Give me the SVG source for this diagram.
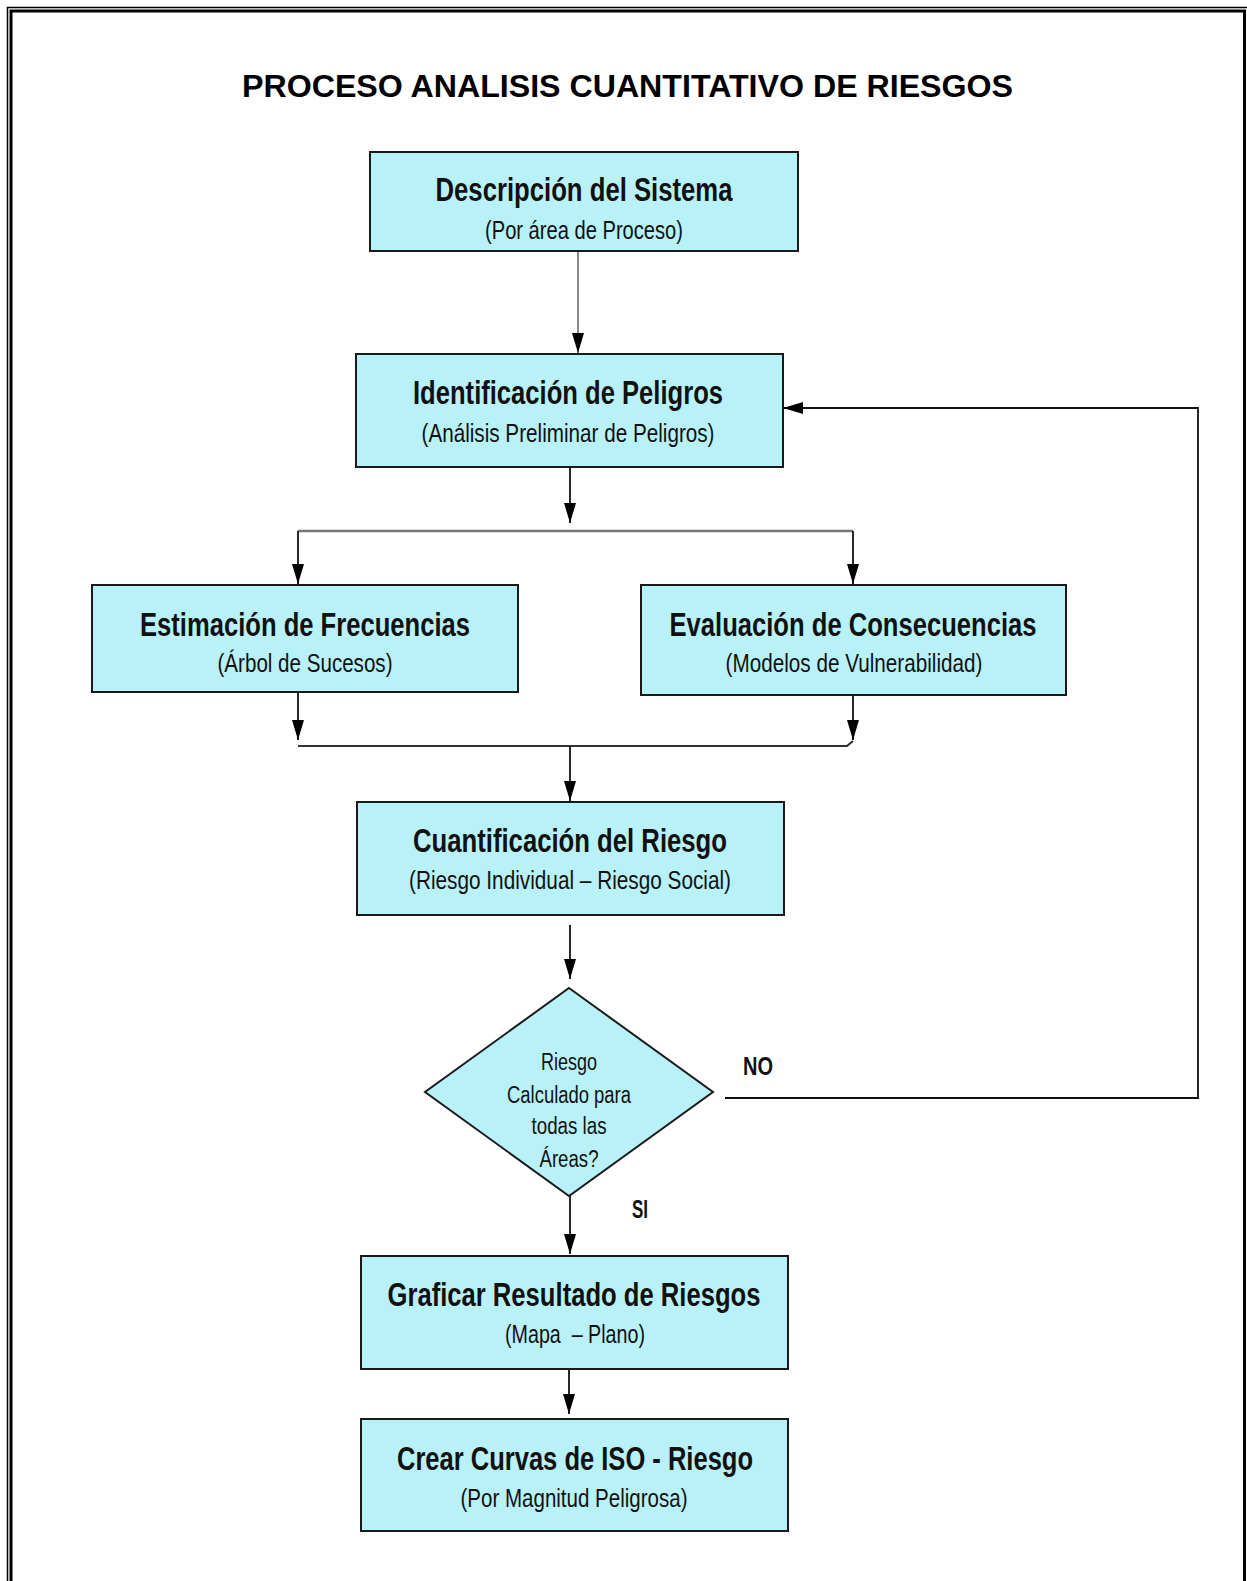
<svg xmlns="http://www.w3.org/2000/svg" width="1247" height="1581" viewBox="0 0 1247 1581">
<style>
.box{fill:#b8f1f8;stroke:#1a1a1a;stroke-width:2}
.t{font-family:"Liberation Sans Narrow","Liberation Sans",Arial,sans-serif;font-weight:bold;font-size:33px;fill:#111;text-anchor:middle}
.s{font-family:"Liberation Sans Narrow","Liberation Sans",Arial,sans-serif;font-size:26px;fill:#111;text-anchor:middle}
.d{font-family:"Liberation Sans Narrow","Liberation Sans",Arial,sans-serif;font-size:23px;fill:#111;text-anchor:middle}
.lbl{font-family:"Liberation Sans Narrow","Liberation Sans",Arial,sans-serif;font-weight:bold;font-size:25px;fill:#111;text-anchor:middle}
.c{fill:none;stroke:#111;stroke-width:1.8}
.g{fill:none;stroke:#888;stroke-width:2}
</style>
<defs>
<marker id="ah" markerUnits="userSpaceOnUse" markerWidth="20" markerHeight="12" refX="20" refY="6" orient="auto">
<path d="M0,0 L20,6 L0,12 z" fill="#000"/>
</marker>
</defs>
<rect width="1247" height="1581" fill="#fff"/>
<g id="border">
<path d="M7.5 1581 V7.5 H1247" fill="none" stroke="#000" stroke-width="1.5"/>
<path d="M11 1581 V11 H1244.5 V1581" fill="none" stroke="#000" stroke-width="3"/>
</g>
<text id="title" x="627.5" y="97" font-family="'Liberation Sans',Arial,sans-serif" font-weight="bold" font-size="32" text-anchor="middle" textLength="771" lengthAdjust="spacingAndGlyphs">PROCESO ANALISIS CUANTITATIVO DE RIESGOS</text>

<g id="connectors">
<line class="g" x1="578" y1="251" x2="578" y2="353" marker-end="url(#ah)"/>
<line class="c" x1="570" y1="467" x2="570" y2="523" marker-end="url(#ah)"/>
<line x1="298" y1="531" x2="853" y2="531" stroke="#777" stroke-width="2.5"/>
<line class="c" x1="298" y1="531" x2="298" y2="584" marker-end="url(#ah)"/>
<line class="c" x1="853" y1="531" x2="853" y2="584" marker-end="url(#ah)"/>
<line class="c" x1="298" y1="692" x2="298" y2="740" marker-end="url(#ah)"/>
<line class="c" x1="853" y1="695" x2="853" y2="740" marker-end="url(#ah)"/>
<path d="M298 746 H847 L853 741" fill="none" stroke="#333" stroke-width="2.2"/>
<line class="c" x1="570" y1="746" x2="570" y2="801" marker-end="url(#ah)"/>
<line class="c" x1="570" y1="925" x2="570" y2="979" marker-end="url(#ah)"/>
<path class="c" d="M725 1098 H1198 V408 H783" stroke="#222" stroke-width="2" marker-end="url(#ah)"/>
<line class="c" x1="570" y1="1196" x2="570" y2="1254" marker-end="url(#ah)"/>
<line class="c" x1="569" y1="1358" x2="569" y2="1414" marker-end="url(#ah)"/>
</g>

<g id="n1">
<rect class="box" x="370" y="152" width="428" height="99"/>
<text class="t" x="584" y="201" textLength="297" lengthAdjust="spacingAndGlyphs">Descripción del Sistema</text>
<text class="s" x="584" y="239" textLength="198" lengthAdjust="spacingAndGlyphs">(Por área de Proceso)</text>
</g>
<g id="n2">
<rect class="box" x="356" y="354" width="427" height="113"/>
<text class="t" x="568" y="404" textLength="310" lengthAdjust="spacingAndGlyphs">Identificación de Peligros</text>
<text class="s" x="568" y="442" textLength="293" lengthAdjust="spacingAndGlyphs">(Análisis Preliminar de Peligros)</text>
</g>
<g id="n3">
<rect class="box" x="92" y="585" width="426" height="107"/>
<text class="t" x="305" y="636" textLength="330" lengthAdjust="spacingAndGlyphs">Estimación de Frecuencias</text>
<text class="s" x="305" y="672" textLength="175" lengthAdjust="spacingAndGlyphs">(Árbol de Sucesos)</text>
</g>
<g id="n4">
<rect class="box" x="641" y="585" width="425" height="110"/>
<text class="t" x="853" y="636" textLength="367" lengthAdjust="spacingAndGlyphs">Evaluación de Consecuencias</text>
<text class="s" x="854" y="672" textLength="257" lengthAdjust="spacingAndGlyphs">(Modelos de Vulnerabilidad)</text>
</g>
<g id="n5">
<rect class="box" x="357" y="802" width="427" height="113"/>
<text class="t" x="570" y="852" textLength="314" lengthAdjust="spacingAndGlyphs">Cuantificación del Riesgo</text>
<text class="s" x="570" y="889" textLength="322" lengthAdjust="spacingAndGlyphs">(Riesgo Individual – Riesgo Social)</text>
</g>
<g id="n6">
<polygon class="box" points="569,988 713,1092 569,1196 425,1092"/>
<text class="d" x="569" y="1070" textLength="56" lengthAdjust="spacingAndGlyphs">Riesgo</text>
<text class="d" x="569" y="1103" textLength="124" lengthAdjust="spacingAndGlyphs">Calculado para</text>
<text class="d" x="569" y="1134" textLength="75" lengthAdjust="spacingAndGlyphs">todas las</text>
<text class="d" x="569" y="1167" textLength="59" lengthAdjust="spacingAndGlyphs">Áreas?</text>
</g>
<text id="lbl-no" class="lbl" x="758" y="1075" textLength="30" lengthAdjust="spacingAndGlyphs">NO</text>
<text id="lbl-si" class="lbl" x="640" y="1218" textLength="16" lengthAdjust="spacingAndGlyphs">SI</text>
<g id="n7">
<rect class="box" x="361" y="1256" width="427" height="113"/>
<text class="t" x="574" y="1306" textLength="373" lengthAdjust="spacingAndGlyphs">Graficar Resultado de Riesgos</text>
<text class="s" x="575" y="1343" textLength="140" lengthAdjust="spacingAndGlyphs">(Mapa&#160; – Plano)</text>
</g>
<g id="n8">
<rect class="box" x="361" y="1419" width="427" height="112"/>
<text class="t" x="575" y="1470" textLength="356" lengthAdjust="spacingAndGlyphs">Crear Curvas de ISO - Riesgo</text>
<text class="s" x="574" y="1507" textLength="227" lengthAdjust="spacingAndGlyphs">(Por Magnitud Peligrosa)</text>
</g>
</svg>
